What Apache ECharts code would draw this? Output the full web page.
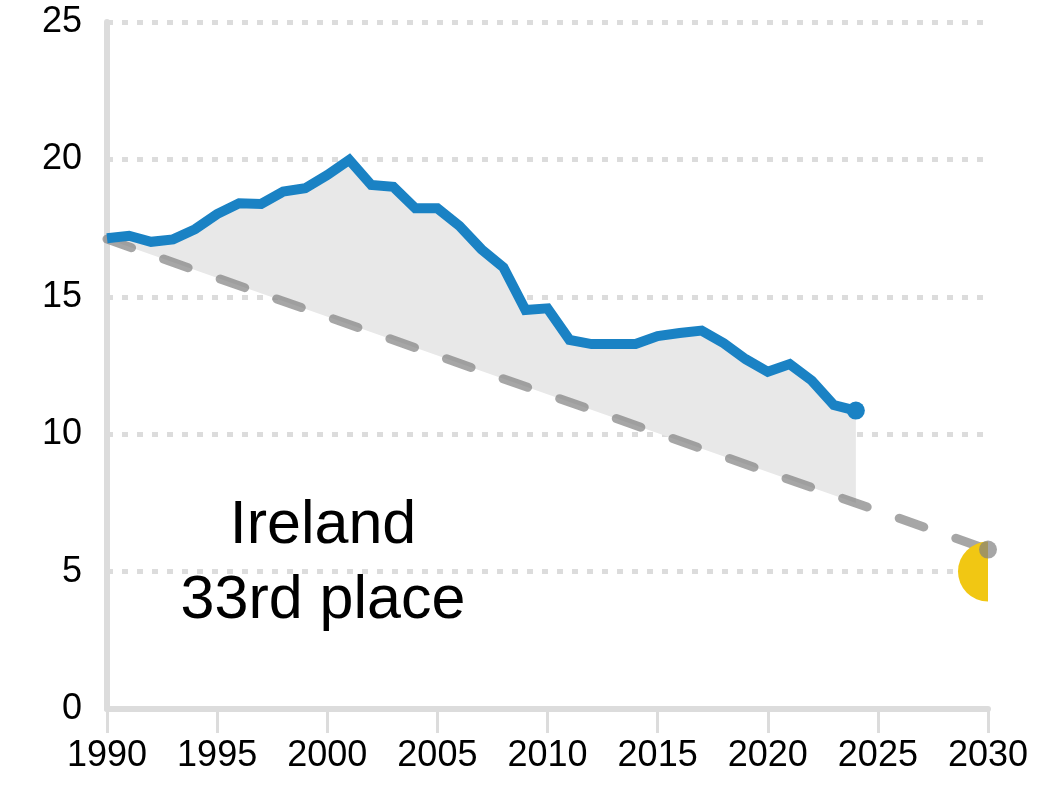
<!DOCTYPE html>
<html>
<head>
<meta charset="utf-8">
<script src="https://cdn.jsdelivr.net/npm/echarts@6/dist/echarts.min.js"></script>
<style>
html,body{margin:0;padding:0;background:#fff;}
#chart{width:1061px;height:796px;}
</style>
</head>
<body>
<div id="chart"></div>
<script>
// ---- data ----
const years = [1990,1991,1992,1993,1994,1995,1996,1997,1998,1999,2000,2001,2002,2003,2004,2005,2006,2007,2008,2009,2010,2011,2012,2013,2014,2015,2016,2017,2018,2019,2020,2021,2022,2023,2024];
const values = [17.13,17.22,17.0,17.09,17.46,18.01,18.4,18.38,18.83,18.95,19.43,19.98,19.07,19.0,18.22,18.22,17.58,16.73,16.07,14.52,14.58,13.43,13.28,13.28,13.28,13.57,13.68,13.77,13.31,12.73,12.27,12.55,11.95,11.06,10.86];
const trajectoryYears = [1990, 2030];
const trajectoryValues = [17.1, 5.8];
const targetYear = 2030;
const targetValue = 5;
const xTicks = [1990,1995,2000,2005,2010,2015,2020,2025,2030];
const yTicks = [0,5,10,15,20,25];
const labelLines = ['Ireland', '33rd place'];

const FONT = '"Liberation Sans", Arial, sans-serif';
const GRIDC = '#dcdcdc';
const BLUE = '#1a82c4';
const GRAY = 'rgba(128,128,128,0.7)';

const lineData = years.map((y, i) => [y, values[i]]);
const trajData = trajectoryYears.map((y, i) => [y, trajectoryValues[i]]);

const chart = echarts.init(document.getElementById('chart'), null, {renderer: 'canvas'});

const option = {
  animation: false,
  backgroundColor: '#fff',
  grid: {left: 107, right: 73, top: 22, bottom: 87, containLabel: false},
  xAxis: {
    type: 'value',
    min: xTicks[0], max: xTicks[xTicks.length - 1], interval: 5,
    axisLine: {show: true, lineStyle: {color: GRIDC, width: 6}},
    axisTick: {show: true, length: 24, lineStyle: {color: GRIDC, width: 3}},
    axisLabel: {fontSize: 36, color: '#000', fontFamily: FONT, margin: 29, formatter: v => String(v)},
    splitLine: {show: false}
  },
  yAxis: {
    type: 'value',
    min: yTicks[0], max: yTicks[yTicks.length - 1], interval: 5,
    axisLine: {show: true, lineStyle: {color: GRIDC, width: 6}},
    axisTick: {show: false},
    axisLabel: {fontSize: 36, color: '#000', fontFamily: FONT, margin: 25},
    splitLine: {show: true, lineStyle: {color: GRIDC, width: 5, type: [6, 9]}}
  },
  graphic: [{
    type: 'text',
    left: 323 - 150, top: 489,
    style: {
      text: labelLines.join('\n'),
      fontSize: 61, fontFamily: FONT, fill: '#000',
      lineHeight: 75, textAlign: 'center', width: 300
    }
  }],
  series: [
    {
      // shaded gap between actual emissions and trajectory
      type: 'custom',
      z: 1,
      silent: true,
      clip: true,
      data: [[years[0], values[0]]],
      renderItem: function (params, api) {
        const pts = lineData.map(d => api.coord(d));
        const a = api.coord(trajData[0]);
        const b = api.coord(trajData[1]);
        const lastX = pts[pts.length - 1][0];
        const t = (lastX - a[0]) / (b[0] - a[0]);
        const yAtLast = a[1] + t * (b[1] - a[1]);
        const poly = pts.concat([[lastX, yAtLast], [a[0], a[1]]]);
        return {type: 'polygon', shape: {points: poly}, style: {fill: '#e8e8e8'}};
      }
    },
    {
      type: 'line',
      z: 3,
      data: trajData,
      showSymbol: false,
      symbol: 'none',
      silent: true,
      lineStyle: {color: GRAY, width: 9, type: [26, 34], cap: 'round'}
    },
    {
      type: 'custom',
      z: 4,
      silent: true,
      data: [[targetYear, targetValue]],
      renderItem: function (params, api) {
        const c = api.coord([api.value(0), api.value(1)]);
        return {
          type: 'sector',
          shape: {cx: c[0], cy: c[1], r0: 0, r: 30, startAngle: Math.PI / 2, endAngle: Math.PI * 3 / 2, clockwise: true},
          style: {fill: '#f1c713'}
        };
      }
    },
    {
      type: 'scatter',
      z: 5,
      clip: false,
      silent: true,
      data: [trajData[trajData.length - 1]],
      symbolSize: 18,
      itemStyle: {color: GRAY, opacity: 1}
    },
    {
      type: 'line',
      z: 6,
      data: lineData,
      showSymbol: false,
      symbol: 'none',
      silent: true,
      lineStyle: {color: BLUE, width: 10, join: 'miter'}
    },
    {
      type: 'scatter',
      z: 7,
      silent: true,
      clip: false,
      data: [lineData[lineData.length - 1]],
      symbolSize: 18,
      itemStyle: {color: BLUE, opacity: 1}
    }
  ]
};
chart.setOption(option);
</script>
</body>
</html>
